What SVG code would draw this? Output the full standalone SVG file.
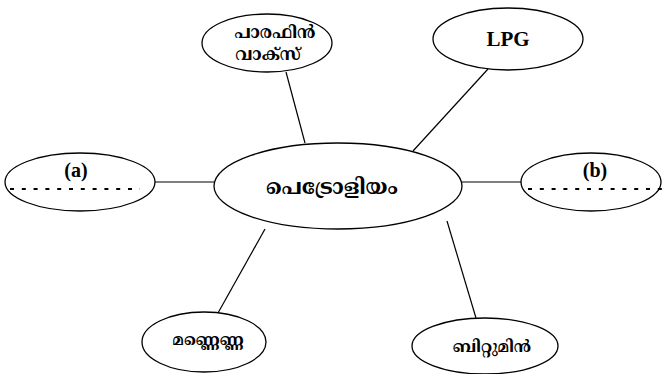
<svg xmlns="http://www.w3.org/2000/svg" width="663" height="374" viewBox="0 0 663 374">
  <style>
    .node ellipse { fill: #ffffff; stroke: #000000; stroke-width: 1.3; }
    .label { font-weight: bold; fill: #000000; text-anchor: middle; }
    .ml { font-family: "Noto Serif Malayalam", "Noto Sans Malayalam", "Liberation Serif", serif; font-size: 17px; }
    .lat { font-family: "Liberation Serif", "Times New Roman", serif; font-size: 20px; }
    .dots { stroke: #000000; stroke-width: 2; stroke-dasharray: 4 7.8; fill: none; }
    .edge { stroke: #000000; stroke-width: 1.2; fill: none; }
  </style>
  <rect width="663" height="374" fill="#ffffff"/>

  <!-- spokes from the centre -->
  <g id="connectors">
    <line class="edge" x1="286" y1="72" x2="305" y2="143"/>
    <line class="edge" x1="488" y1="69" x2="413" y2="151"/>
    <line class="edge" x1="155" y1="182" x2="214" y2="182"/>
    <line class="edge" x1="462" y1="182" x2="521" y2="182"/>
    <line class="edge" x1="265" y1="229" x2="218" y2="313"/>
    <line class="edge" x1="447" y1="221" x2="476" y2="318"/>
  </g>

  <g id="centre" class="node">
    <ellipse cx="338" cy="186" rx="124" ry="43"/>
    <text class="label ml" x="332" y="194" style="font-size:21px">പെട്രോളിയം</text>
  </g>

  <g id="paraffin" class="node">
    <ellipse cx="267" cy="43" rx="65" ry="29"/>
    <text class="label ml" x="275" y="38">പാരഫിൻ</text>
    <text class="label ml" x="268" y="60">വാക്സ്</text>
  </g>

  <g id="lpg" class="node">
    <ellipse cx="508" cy="39" rx="75" ry="31"/>
    <text class="label lat" x="508" y="46" style="font-size:21px">LPG</text>
  </g>

  <g id="blank-a" class="node">
    <ellipse cx="80" cy="182" rx="75" ry="29"/>
    <text class="label lat" x="76" y="177">(a)</text>
    <line class="dots" x1="10" y1="189" x2="140" y2="189"/>
  </g>

  <g id="blank-b" class="node">
    <ellipse cx="591" cy="182" rx="70" ry="29"/>
    <text class="label lat" x="595" y="177">(b)</text>
    <line class="dots" x1="528" y1="189" x2="662" y2="189"/>
  </g>

  <g id="kerosene" class="node">
    <ellipse cx="204" cy="342" rx="62" ry="30"/>
    <text class="label ml" x="208" y="345" style="font-size:16px">മണ്ണെണ്ണ</text>
  </g>

  <g id="bitumen" class="node">
    <ellipse cx="485" cy="346" rx="73" ry="28"/>
    <text class="label ml" x="492" y="352" style="font-size:16px">ബിറ്റുമിൻ</text>
  </g>
</svg>
